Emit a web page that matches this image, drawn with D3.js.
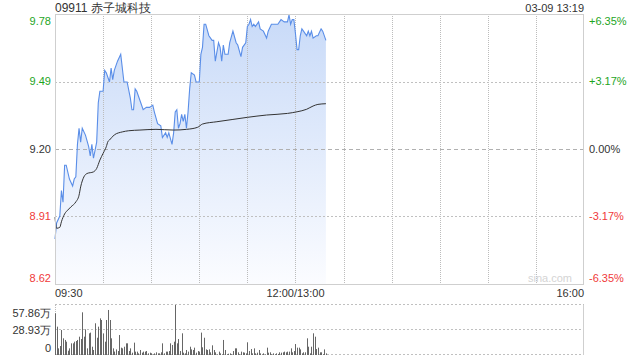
<!DOCTYPE html>
<html><head><meta charset="utf-8">
<script src="https://cdn.jsdelivr.net/npm/d3@7/dist/d3.min.js"></script>
<style>
html,body{margin:0;padding:0;background:#fff;}
svg{display:block;font-family:"Liberation Sans",Arial,sans-serif;}
</style></head>
<body><svg id="c" width="640" height="360"></svg>
<script>
const title = "09911 赤子城科技";
const stamp = "03-09 13:19";
const prevClose = 9.20;
const priceTickLabels = ["9.78","9.49","9.20","8.91","8.62"];
const pctTicks = [6.35, 3.17, 0, -3.17, -6.35];
const pctTickLabels = ["+6.35%","+3.17%","0.00%","-3.17%","-6.35%"];
const timeTickMin = [0, 150, 330];
const timeTickLabels = ["09:30","12:00/13:00","16:00"];
const volTicks = [57.86, 28.93, 0];
const volTickLabels = ["57.86万","28.93万","0"];

const priceMin = [0,1,3,4,5,6,7,9,11,12,13,14,15,16,17,19,21,22,23,24,26,27,28,30,31,32,34,35,36,37,39,41,43,45,47,48,49,50,51,53,55,57,59,61,62,64,66,67,69,70,71,73,74,75,76,77,78,79,80,81,82,83,84,85,87,88,90,91,92,93,94,96,98,99,100,102,103,104,105,106,108,109,111,113,114,116,117,119,120,121,122,123,124,125,127,128,130,132,133,135,136,139,141,143,145,146,147,148,149,150,151,152,153,154,155,157,158,159,160,161,163,164,166,167,169];
const price = [8.81,8.88,8.91,9.02,8.97,9.13,9.13,9.07,9.04,9.07,9.08,9.22,9.29,9.23,9.29,9.26,9.21,9.17,9.22,9.16,9.23,9.40,9.45,9.45,9.54,9.53,9.49,9.55,9.50,9.54,9.58,9.61,9.49,9.49,9.42,9.37,9.37,9.46,9.45,9.41,9.37,9.38,9.38,9.39,9.36,9.31,9.30,9.25,9.27,9.25,9.27,9.22,9.27,9.36,9.37,9.29,9.31,9.35,9.32,9.35,9.29,9.36,9.46,9.53,9.52,9.49,9.49,9.61,9.64,9.74,9.74,9.69,9.67,9.67,9.58,9.66,9.64,9.58,9.65,9.61,9.61,9.66,9.71,9.66,9.65,9.60,9.64,9.66,9.73,9.74,9.76,9.73,9.74,9.73,9.75,9.72,9.71,9.68,9.71,9.74,9.74,9.74,9.76,9.75,9.75,9.78,9.74,9.76,9.76,9.70,9.63,9.63,9.69,9.72,9.71,9.69,9.71,9.69,9.71,9.68,9.69,9.69,9.72,9.71,9.67];

const avgMin = [0,1,3,4,6,8,10,13,15,16,18,20,24,26,28,30,32,33,34,37,42,46,53,63,74,82,89,92,101,111,120,132,145,151,157,161,164,169];
const avgPrice = [8.905,8.857,8.861,8.885,8.919,8.936,8.950,8.971,9.000,9.036,9.079,9.094,9.101,9.116,9.152,9.181,9.210,9.232,9.239,9.261,9.274,9.279,9.282,9.285,9.282,9.285,9.294,9.308,9.318,9.328,9.337,9.347,9.354,9.361,9.372,9.386,9.393,9.396];

// volume in 万, one per minute from 09:30
const volume = [48.2,32.8,7.7,10.4,28.9,19.3,17.4,15.4,5.0,7.7,
13.5,13.5,15.4,16.2,17.4,21.2,18.5,49.4,21.2,29.7,
7.7,25.1,25.9,9.6,5.8,36.7,20.0,32.8,42.4,40.5,
25.0,15.4,40.5,52.1,40.5,19.3,7.7,4.0,6.5,4.6,
23.1,8.5,7.7,9.6,13.5,13.5,4.6,7.7,2.7,14.3,
3.9,3.9,1.9,5.8,2.7,3.9,3.9,4.6,1.9,2.7,
2.0,0.8,1.9,3.1,1.9,1.9,3.1,13.5,1.9,3.9,
3.9,4.6,13.5,11.6,15.4,57.9,13.5,18.5,
4.6,25.1,2.7,1.9,5.8,3.9,9.6,6.5,5.8,8.5,
2.7,4.6,3.9,25.9,8.9,20.0,6.5,5.8,6.5,3.1,
11.2,5.8,3.1,0.8,3.9,1.9,0.8,17.4,5.8,0.8,1.5,
1.9,0.8,4.6,7.7,7.7,3.1,0.8,3.9,3.1,2.7,
1.9,14.7,4.6,6.9,1.9,7.7,1.9,2.7,5.8,1.9,
0.8,1.9,0.8,8.5,2.7,3.1,0.8,1.9,0.8,1.9,1.2,
3.1,2.7,3.1,3.9,3.1,3.9,3.9,7.7,3.1,4.6,
12.7,8.5,8.5,6.5,1.9,3.1,3.1,19.3,9.6,1.9,
9.6,25.1,21.2,6.9,8.5,3.1,3.1,0.8,6.5,1.9];

const svg = d3.select("#c");
const L = 55, R = 584, T = 14, B = 284;
const VT = 305, VB = 355;
const green = "#1ea51e", red = "#f03a3a", dark = "#333";
const gridCol = "#bcbcbc";
const pmax = prevClose * (1 + pctTicks[0]/100), pmin = prevClose * (1 + pctTicks[4]/100);
const x = d3.scaleLinear().domain([0, 330]).range([L, R]);
const y = d3.scaleLinear().domain([pmin, pmax]).range([B, T]);
const vy = d3.scaleLinear().domain([0, volTicks[0]]).range([VB, VT]);

const defs = svg.append("defs");
const grad = defs.append("linearGradient").attr("id","g").attr("gradientUnits","userSpaceOnUse")
  .attr("x1",0).attr("x2",0).attr("y1",T).attr("y2",B);
grad.append("stop").attr("offset","0").attr("stop-color","#c8daf8");
grad.append("stop").attr("offset","1").attr("stop-color","#fbfcff");

// data area
const pts = priceMin.map((m,i) => ({m, p: price[i]}));
const avgPts = avgMin.map((m,i) => ({m, p: avgPrice[i]}));
svg.append("path").datum(pts)
  .attr("d", d3.area().x(d => x(d.m)).y0(B).y1(d => y(d.p)))
  .attr("fill","url(#g)");

// vertical grid
const vg = d3.range(1, 11).map(i => i*30);
svg.append("g").selectAll("line").data(vg).join("line")
  .attr("x1", d => Math.round(x(d))+0.5).attr("x2", d => Math.round(x(d))+0.5).attr("y1", T).attr("y2", B)
  .attr("stroke",gridCol).attr("stroke-dasharray","1,1");
// horizontal grid (dotted at +/-3.17%, dashed at 0%)
const hy = d => Math.round(y(prevClose*(1+d/100))) + 0.5;
svg.append("g").attr("shape-rendering","crispEdges").selectAll("path").data(pctTicks.slice(1,4)).join("path")
  .attr("d", d => `M${L},${hy(d)}H${R}`)
  .attr("fill","none")
  .attr("stroke", d => d===0 ? "#b0b0b0" : "#c0c0c0")
  .attr("stroke-width", 1)
  .attr("stroke-dasharray", d => d===0 ? "4,3" : "2,2");

svg.append("path").datum(pts)
  .attr("d", d3.line().x(d => x(d.m)).y(d => y(d.p)))
  .attr("fill","none").attr("stroke","#5a8ee8").attr("stroke-width",1.1);
svg.append("path").datum(avgPts)
  .attr("d", d3.line().curve(d3.curveMonotoneX).x(d => x(d.m)).y(d => y(d.p)))
  .attr("fill","none").attr("stroke","#333").attr("stroke-width",1);

// border
svg.append("rect").attr("x",L+0.5).attr("y",T+0.5).attr("width",R-L-1).attr("height",B-T)
  .attr("fill","none").attr("stroke","#cfcfcf");

// watermark
svg.append("text").attr("x",R-12).attr("y",B-2).attr("text-anchor","end")
  .attr("font-size",11).attr("fill","#d4d4d4").text("sina.com");

// left & right labels
const lblColor = d => d > 0 ? green : d < 0 ? red : dark;
const lblY = (d,i) => { const yy = y(prevClose*(1+d/100)); return i===0 ? yy+7 : i===4 ? yy-6 : yy; };
svg.append("g").selectAll("text").data(pctTicks).join("text")
  .attr("x", 51).attr("y", lblY).attr("dy","0.35em").attr("text-anchor","end")
  .attr("font-size",11).attr("fill", lblColor).text((d,i) => priceTickLabels[i]);
svg.append("g").selectAll("text").data(pctTicks).join("text")
  .attr("x", 589).attr("y", lblY).attr("dy","0.35em").attr("text-anchor","start")
  .attr("font-size",11).attr("fill", lblColor).text((d,i) => pctTickLabels[i]);

// title
svg.append("text").attr("x",L).attr("y",12).attr("font-size",12).attr("fill",dark).text(title);
svg.append("text").attr("x",R).attr("y",12).attr("text-anchor","end").attr("font-size",11).attr("fill",dark).text(stamp);

// time labels
svg.append("g").selectAll("text").data(timeTickMin).join("text")
  .attr("x", d => x(d)).attr("y", 297)
  .attr("text-anchor", (d,i) => i===0 ? "start" : i===timeTickMin.length-1 ? "end" : "middle")
  .attr("font-size",11).attr("fill",dark).text((d,i) => timeTickLabels[i]);

// volume panel
svg.append("g").attr("shape-rendering","crispEdges").selectAll("path").data(volTicks).join("path")
  .attr("d", d => `M${L},${Math.round(vy(d))-0.5}H${R}`)
  .attr("fill","none").attr("stroke","#c0c0c0").attr("stroke-dasharray","2,2");
svg.append("line").attr("x1",L+0.5).attr("x2",L+0.5).attr("y1",VT).attr("y2",VB)
  .attr("stroke",gridCol).attr("stroke-dasharray","1,1");
svg.append("line").attr("x1",R-0.5).attr("x2",R-0.5).attr("y1",VT).attr("y2",VB)
  .attr("stroke","#cfcfcf");
svg.append("g").selectAll("rect").data(volume).join("rect")
  .attr("x", (d,i) => Math.round(x(i))).attr("width", 1)
  .attr("y", d => vy(d)).attr("height", d => VB - vy(d))
  .attr("fill","#666");
svg.append("g").selectAll("text").data(volTicks).join("text")
  .attr("x", 51).attr("y", (d,i) => i===0 ? vy(d)+8 : i===2 ? vy(d)-7 : vy(d))
  .attr("dy","0.35em").attr("text-anchor","end")
  .attr("font-size",11).attr("fill",dark).text((d,i) => volTickLabels[i]);
</script></body></html>
